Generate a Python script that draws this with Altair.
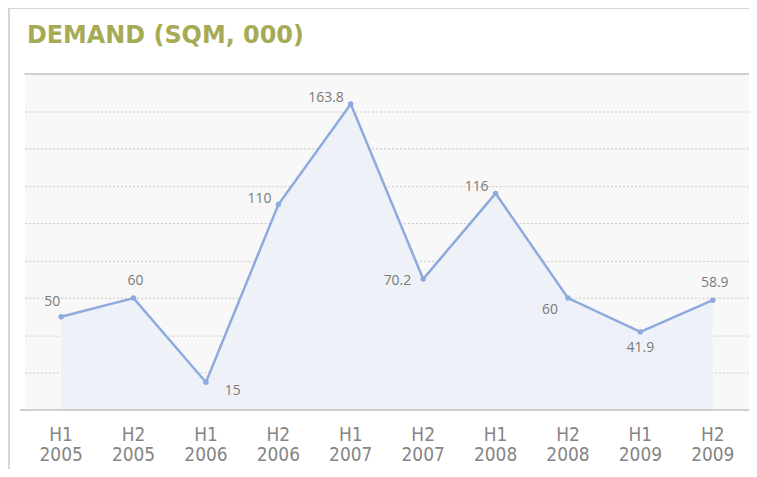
import altair as alt
import pandas as pd

periods = ["H1 2005", "H2 2005", "H1 2006", "H2 2006", "H1 2007",
           "H2 2007", "H1 2008", "H2 2008", "H1 2009", "H2 2009"]
halves = ["H1", "H2", "H1", "H2", "H1", "H2", "H1", "H2", "H1", "H2"]
years = ["2005", "2005", "2006", "2006", "2007", "2007", "2008", "2008", "2009", "2009"]
values = [50, 60, 15, 110, 163.8, 70.2, 116, 60, 41.9, 58.9]
value_labels = ["50", "60", "15", "110", "163.8", "70.2", "116", "60", "41.9", "58.9"]
label_place = ["upleft", "up", "downright", "left", "left", "leftmid",
               "left", "downleft", "down", "up"]
title_text = "DEMAND (SQM, 000)"

placement_style = {
    "upleft": dict(align="center", dx=-9, dy=-15),
    "up": dict(align="center", dx=2, dy=-17),
    "downright": dict(align="left", dx=19, dy=9),
    "left": dict(align="right", dx=-7, dy=-6),
    "leftmid": dict(align="right", dx=-12, dy=2),
    "downleft": dict(align="right", dx=-10, dy=12),
    "down": dict(align="center", dx=0, dy=16),
}

df = pd.DataFrame({"period": periods, "half": halves, "year": years,
                   "value": values, "label": value_labels, "place": label_place})

W, H = 727, 338
FONT = "Open Sans"
AXFONT = "Liberation Sans Narrow, DejaVu Sans Condensed"
LINE = "#8eaadc"

x = alt.X("period:N", sort=periods,
          scale=alt.Scale(type="point", padding=0.5),
          axis=None)
y = alt.Y("value:Q", scale=alt.Scale(domain=[0, 180], nice=False),
          axis=alt.Axis(title=None, labels=False, ticks=False, domain=False,
                        values=list(range(20, 180, 20)), grid=True,
                        gridColor="#c8c8c8", gridDash=[2, 2], gridWidth=1))
xs = alt.X("period:N", sort=periods)

base = alt.Chart(df)

area = base.mark_area(color="#eef2f8", opacity=1).encode(x=x, y=y)
line = base.mark_line(color=LINE, strokeWidth=2.5).encode(x=xs, y="value:Q")
pts = base.mark_circle(color=LINE, size=30, opacity=1).encode(x=xs, y="value:Q")

top_rule = base.mark_rule(color="#cfcfcf", strokeWidth=1.5).encode(
    x=alt.value(0), x2=alt.value(W), y=alt.value(0))
axis_rule = base.mark_rule(color="#cfcfcf", strokeWidth=1.5).encode(
    x=alt.value(-5), x2=alt.value(W), y=alt.value(H))
frame_left = base.mark_rule(color="#d6d6d6", strokeWidth=2).encode(
    x=alt.value(-16), y=alt.value(-66), y2=alt.value(H + 60))
frame_top = base.mark_rule(color="#d6d6d6", strokeWidth=2).encode(
    x=alt.value(-16), x2=alt.value(W + 10), y=alt.value(-66))

half_text = base.mark_text(font=AXFONT, fontSize=19, color="#858585",
                           baseline="middle").encode(
    x=xs, y=alt.value(H + 25), text="half:N")
year_text = base.mark_text(font=AXFONT, fontSize=19, color="#858585",
                           baseline="middle").encode(
    x=xs, y=alt.value(H + 45), text="year:N")

title = alt.Chart(pd.DataFrame({"t": [title_text]})).mark_text(
    font="DejaVu Sans", fontSize=24, fontWeight="bold", color="#a6aa55",
    align="left", baseline="middle").encode(
    x=alt.value(2), y=alt.value(-38), text="t:N")

layers = [area, top_rule, line, pts]
for name, st in placement_style.items():
    layers.append(
        base.transform_filter(alt.datum.place == name).mark_text(
            font=FONT, fontSize=14, color="#7a7a7a", baseline="middle", **st
        ).encode(x=xs, y="value:Q", text="label:N")
    )
layers += [axis_rule, frame_left, frame_top, half_text, year_text, title]

chart = alt.layer(*layers).properties(
    width=W, height=H,
    autosize=alt.AutoSizeParams(type="none"),
    padding={"left": 17, "top": 65, "right": 0, "bottom": 58},
).configure_view(stroke=None, fill="#f8f8f9")

chart.save("out.html", embed_options={"renderer": "svg", "actions": False})
